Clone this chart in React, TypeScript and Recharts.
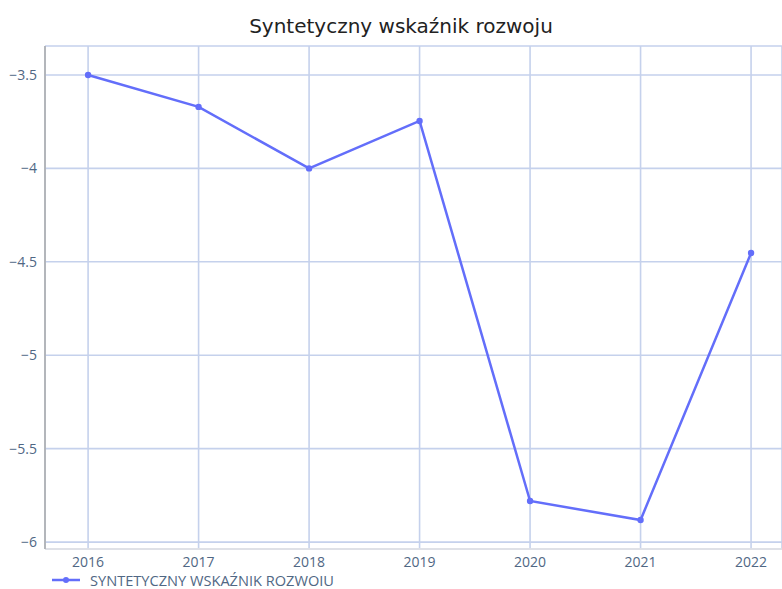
import React from "react";
import {
  LineChart,
  Line,
  XAxis,
  YAxis,
  CartesianGrid,
  Legend,
} from "recharts";

const years = [2016, 2017, 2018, 2019, 2020, 2021, 2022];
const values = [-3.5, -3.671, -4.0, -3.746, -5.78, -5.882, -4.453];
const yTicks = [-6, -5.5, -5, -4.5, -4, -3.5];
const seriesName = "SYNTETYCZNY WSKAŹNIK ROZWOIU";
const title = "Syntetyczny wskaźnik rozwoju";

const data = years.map((year, i) => ({ year, value: values[i] }));

const LINE_COLOR = "#636efa";
const GRID_COLOR = "#c5d1ec";
const TEXT_COLOR = "#506784";

const fmt = (v: number) => String(v).replace("-", "\u2212");

const LegendContent = () => (
  <div
    style={{
      display: "flex",
      alignItems: "center",
      paddingLeft: 52,
      height: 18,
      fontFamily: "'Open Sans', sans-serif",
      fontSize: 14.6,
      color: TEXT_COLOR,
    }}
  >
    <svg width={30} height={10}>
      <line x1={0} y1={5} x2={28} y2={5} stroke={LINE_COLOR} strokeWidth={2.5} />
      <circle cx={14} cy={5} r={3} fill={LINE_COLOR} />
    </svg>
    <span style={{ marginLeft: 8 }}>{seriesName}</span>
  </div>
);

export default function App() {
  return (
    <div style={{ position: "absolute", top: 0, left: 0, width: 782, height: 589, background: "#fff" }}>
      <div
        style={{
          position: "absolute",
          top: 14,
          left: 0,
          width: 802,
          textAlign: "center",
          fontFamily: "'DejaVu Sans', sans-serif",
          fontSize: 20,
          color: "#222",
        }}
      >
        {title}
      </div>
      <LineChart
        width={782}
        height={589}
        data={data}
        margin={{ top: 46, right: 0, bottom: 0, left: 0 }}
      >
        <CartesianGrid stroke={GRID_COLOR} strokeWidth={1.6} />
        <XAxis
          dataKey="year"
          type="number"
          domain={[2015.61, 2022.28]}
          ticks={years}
          allowDataOverflow
          height={22}
          tickLine={false}
          axisLine={{ stroke: "#e3e3e3", strokeWidth: 1.5 }}
          tick={{ fill: TEXT_COLOR, fontSize: 14, fontFamily: "'Open Sans', sans-serif" }}
        />
        <YAxis
          type="number"
          domain={[-6.037, -3.345]}
          ticks={yTicks}
          allowDataOverflow
          width={45}
          tickLine={false}
          axisLine={{ stroke: "#aaaaaa", strokeWidth: 1.5 }}
          tickFormatter={fmt}
          tick={{ fill: TEXT_COLOR, fontSize: 14, fontFamily: "'Open Sans', sans-serif" }}
        />
        <Legend verticalAlign="bottom" height={18} content={<LegendContent />} />
        <Line
          type="linear"
          dataKey="value"
          name={seriesName}
          stroke={LINE_COLOR}
          strokeWidth={2.5}
          dot={{ r: 3.2, fill: LINE_COLOR, stroke: LINE_COLOR, strokeWidth: 0 }}
          activeDot={false}
          isAnimationActive={false}
        />
      </LineChart>
    </div>
  );
}
